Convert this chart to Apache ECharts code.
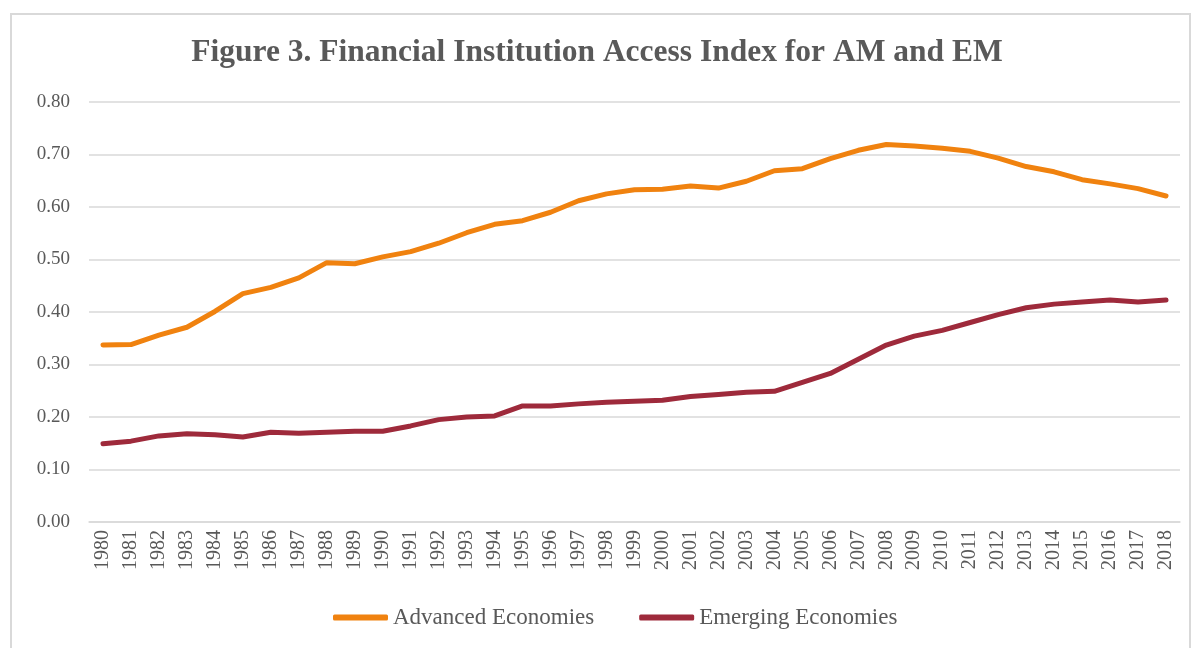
<!DOCTYPE html>
<html>
<head>
<meta charset="utf-8">
<script src="https://cdn.jsdelivr.net/npm/echarts@6/dist/echarts.min.js"></script>
<style>
  html, body { margin: 0; padding: 0; background: #fff; }
  #chart { width: 1194px; height: 648px; }
</style>
</head>
<body>
<div id="chart"></div>
<script>
// years on the x axis
const years = [];
for (let y = 1980; y <= 2018; y++) years.push(String(y));

// values
const advanced = [0.337, 0.338, 0.356, 0.371, 0.401, 0.435, 0.447, 0.465, 0.494, 0.492,
  0.505, 0.515, 0.531, 0.551, 0.567, 0.574, 0.590, 0.612, 0.625, 0.633,
  0.634, 0.640, 0.636, 0.649, 0.669, 0.673, 0.692, 0.708, 0.719, 0.716,
  0.712, 0.706, 0.693, 0.677, 0.667, 0.652, 0.644, 0.635, 0.621];
const emerging = [0.149, 0.154, 0.164, 0.168, 0.166, 0.162, 0.171, 0.169, 0.171, 0.173,
  0.173, 0.183, 0.195, 0.200, 0.202, 0.221, 0.221, 0.225, 0.228, 0.230,
  0.232, 0.239, 0.243, 0.247, 0.249, 0.266, 0.283, 0.310, 0.337, 0.354,
  0.365, 0.380, 0.395, 0.408, 0.415, 0.419, 0.423, 0.419, 0.423];

const font = '"Liberation Serif", "DejaVu Serif", serif';
const grey = '#595959';

const chart = echarts.init(document.getElementById('chart'));
chart.setOption({
  animation: false,
  graphic: [{
    type: 'rect',
    shape: { x: 11, y: 14, width: 1179, height: 650 },
    style: { fill: 'none', stroke: '#D9D9D9', lineWidth: 2 }
  }],
  title: {
    text: 'Figure 3. Financial Institution Access Index for AM and EM',
    left: 'center',
    top: 32,
    textStyle: { fontFamily: font, fontSize: 31.5, fontWeight: 'bold', color: grey }
  },
  legend: {
    bottom: 14,
    left: 328,
    icon: 'roundRect',
    itemWidth: 55,
    itemHeight: 6,
    itemGap: 45,
    textStyle: { fontFamily: font, fontSize: 23, color: grey },
    data: ['Advanced Economies', 'Emerging Economies']
  },
  grid: { left: 89, right: 14, top: 102, bottom: 126 },
  xAxis: {
    type: 'category',
    data: years,
    boundaryGap: true,
    axisLine: { lineStyle: { color: '#D9D9D9', width: 1.5 } },
    axisTick: { show: false },
    axisLabel: { rotate: 90, interval: 0, fontFamily: font, fontSize: 20, color: grey, margin: 8 }
  },
  yAxis: {
    type: 'value',
    min: 0,
    max: 0.8,
    interval: 0.1,
    axisLine: { show: false },
    axisTick: { show: false },
    splitLine: { lineStyle: { color: '#D9D9D9', width: 1.5 } },
    axisLabel: {
      fontFamily: font, fontSize: 19, color: grey, margin: 19,
      formatter: v => v.toFixed(2)
    }
  },
  series: [
    {
      name: 'Advanced Economies',
      type: 'line',
      data: advanced,
      symbol: 'none',
      color: '#F0820F',
      lineStyle: { width: 5, cap: 'round', join: 'round' }
    },
    {
      name: 'Emerging Economies',
      type: 'line',
      data: emerging,
      symbol: 'none',
      color: '#9E2A3B',
      lineStyle: { width: 5, cap: 'round', join: 'round' }
    }
  ]
});
</script>
</body>
</html>
